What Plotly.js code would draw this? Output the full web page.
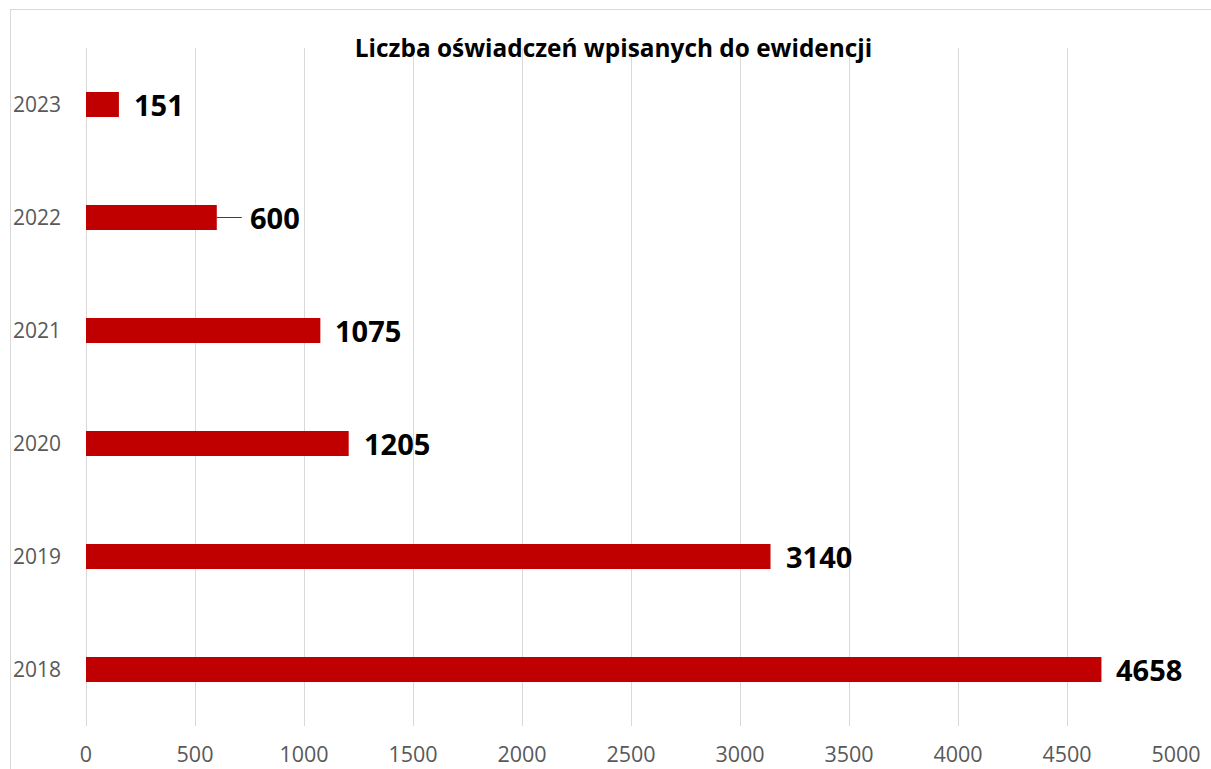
<!DOCTYPE html>
<html>
<head>
<meta charset="utf-8">
<script src="https://cdn.plot.ly/plotly-3.0.1.min.js"></script>
<style>
html,body{margin:0;padding:0;background:#fff;}
#chart{width:1211px;height:769px;position:relative;}
#frame{position:absolute;left:10px;top:9px;width:1300px;height:900px;border-left:1px solid #d9d9d9;border-top:1px solid #d9d9d9;pointer-events:none;}
</style>
</head>
<body>
<div style="position:relative;width:1211px;height:769px;overflow:hidden;">
<div id="chart"></div>
<div id="frame"></div>
</div>
<script>
var years = ['2018', '2019', '2020', '2021', '2022', '2023'];
var counts = [4658, 3140, 1205, 1075, 600, 151];
var xTicks = [0, 500, 1000, 1500, 2000, 2500, 3000, 3500, 4000, 4500, 5000];
var chartTitle = 'Liczba oświadczeń wpisanych do ewidencji';

var trace = {
  type: 'bar',
  orientation: 'h',
  x: counts,
  y: years,
  marker: {color: '#C00000'},
  width: 0.22,
  hoverinfo: 'x+y'
};

var annotations = years.map(function (yr, i) {
  var leader = (yr === '2022');
  var a = {
    x: counts[i], y: i, xref: 'x', yref: 'y',
    text: '<b>' + String(counts[i]) + '</b>',
    font: {family: 'Open Sans', size: 29, color: '#000000'},
    xanchor: 'left', yanchor: 'middle'
  };
  if (leader) {
    a.showarrow = true; a.arrowhead = 0; a.arrowwidth = 1.2; a.arrowcolor = '#404040';
    a.ax = 31; a.ay = 0; a.standoff = 0; a.startstandoff = 6;
  } else {
    a.showarrow = false; a.xshift = 13;
  }
  return a;
});

var layout = {
  width: 1211, height: 769,
  margin: {l: 86, r: 35, t: 48, b: 43},
  paper_bgcolor: '#ffffff', plot_bgcolor: '#ffffff',
  showlegend: false,
  title: {
    text: '<b>' + chartTitle + '</b>',
    font: {family: 'Open Sans', size: 24.4, color: '#000000'},
    x: 613.5 / 1211, xref: 'container', xanchor: 'center',
    y: 1 - 48 / 769, yref: 'container', yanchor: 'middle'
  },
  xaxis: {
    range: [0, 5000],
    tickvals: xTicks,
    ticktext: xTicks.map(String),
    showgrid: true, gridcolor: '#d9d9d9', gridwidth: 1.3,
    zeroline: true, zerolinecolor: '#d9d9d9', zerolinewidth: 1.3,
    showline: false, ticks: '',
    ticklabelstandoff: 13,
    tickfont: {family: 'Open Sans', size: 21.5, color: '#595959'},
    fixedrange: true
  },
  yaxis: {
    type: 'category',
    categoryorder: 'array', categoryarray: years,
    range: [-0.5, 5.5],
    showgrid: false, zeroline: false, showline: false, ticks: '',
    ticklabelstandoff: 24,
    tickfont: {family: 'Open Sans', size: 21, color: '#595959'},
    fixedrange: true
  },
  annotations: annotations
};

Plotly.newPlot('chart', [trace], layout, {displayModeBar: false});
</script>
</body>
</html>
